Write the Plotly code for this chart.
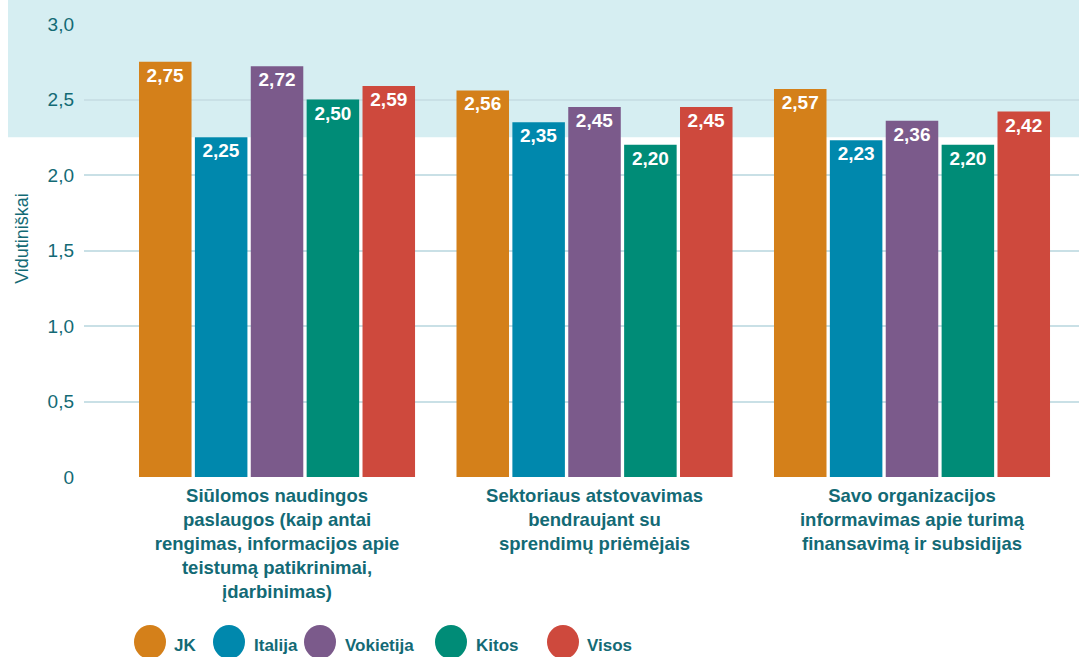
import plotly.graph_objects as go

categories = [
    "Siūlomos naudingos<br>paslaugos (kaip antai<br>rengimas, informacijos apie<br>teistumą patikrinimai,<br>įdarbinimas)",
    "Sektoriaus atstovavimas<br>bendraujant su<br>sprendimų priėmėjais",
    "Savo organizacijos<br>informavimas apie turimą<br>finansavimą ir subsidijas",
]
series_names = ["JK", "Italija", "Vokietija", "Kitos", "Visos"]
jk = [2.75, 2.56, 2.57]
italija = [2.25, 2.35, 2.23]
vokietija = [2.72, 2.45, 2.36]
kitos = [2.50, 2.20, 2.20]
visos = [2.59, 2.45, 2.42]
series_values = [jk, italija, vokietija, kitos, visos]
y_tickvals = [0, 0.5, 1.0, 1.5, 2.0, 2.5, 3.0]
y_ticktext = ["0", "0,5", "1,0", "1,5", "2,0", "2,5", "3,0"]
band_low = 2.25
y_title = "Vidutiniškai"

colors = ["#D4801A", "#0088AD", "#7B5A8B", "#008C77", "#CE493D"]
teal = "#136A75"
band_color = "#D6EEF2"
font_family = "Liberation Sans, Arial, sans-serif"

W, H = 1079, 657
ml, mr, mt, mb = 84, 0, 0, 180
pw, ph = W - ml - mr, H - mt - mb

fig = go.Figure()
xs = list(range(len(categories)))
for name, vals, col in zip(series_names, series_values, colors):
    fig.add_trace(go.Bar(
        x=xs, y=vals, name=name, marker=dict(color=col, line=dict(width=0)),
        texttemplate="%{y:.2f}", textposition="inside", insidetextanchor="end",
        textfont=dict(color="white", size=19, family=font_family, weight="bold"),
        showlegend=False, cliponaxis=False, hoverinfo="skip",
    ))

# background band (upper zone)
fig.add_shape(type="rect", xref="paper", yref="y", x0=(8 - ml) / pw, x1=1.0,
              y0=band_low, y1=3.2, fillcolor=band_color, line=dict(width=0), layer="below")
# no visible gridline at the top tick
fig.add_shape(type="line", xref="paper", yref="y", x0=0, x1=1.0,
              y0=y_tickvals[-1], y1=y_tickvals[-1], line=dict(color=band_color, width=4),
              layer="above")

# custom legend with large circles
legend_circle_x = [150, 229, 320, 451, 563]
legend_text_x = [172, 252, 343, 474, 585]
legend_cy = 642
for name, col, cx, tx in zip(series_names, colors, legend_circle_x, legend_text_x):
    fig.add_shape(type="circle", xref="paper", yref="paper",
                  xsizemode="pixel", ysizemode="pixel",
                  xanchor=(cx - ml) / pw, yanchor=(H - mb - legend_cy) / ph,
                  x0=-16, x1=16, y0=-17, y1=17,
                  fillcolor=col, line=dict(width=0))
    fig.add_annotation(text=name, xref="paper", yref="paper",
                       x=(tx - ml) / pw, y=(H - mb - 645) / ph,
                       xanchor="left", yanchor="middle", showarrow=False,
                       font=dict(size=17, color=teal, family=font_family, weight="bold"))

fig.update_layout(
    width=W, height=H,
    margin=dict(l=ml, r=mr, t=mt, b=mb),
    paper_bgcolor="white", plot_bgcolor="rgba(0,0,0,0)",
    barmode="group", bargap=0.12, bargroupgap=0.06,
    separators=", ",
    font=dict(family=font_family, color=teal),
    xaxis=dict(
        tickvals=xs, ticktext=categories, range=[-0.608, 2.526],
        showgrid=False, zeroline=False, showline=False, ticks="", ticklabelstandoff=5,
        tickfont=dict(size=18.5, color=teal, family=font_family, weight="bold"),
    ),
    yaxis=dict(
        range=[0, 3.159], tickvals=y_tickvals, ticktext=y_ticktext,
        showgrid=True, gridcolor="#C9E0E6", gridwidth=1.5, zeroline=False,
        showline=False, ticks="", ticklabelstandoff=9,
        tickfont=dict(size=19, color=teal, family=font_family),
        title=dict(text=y_title, font=dict(size=18, color=teal, family=font_family), standoff=14),
    ),
)

fig.write_html("out.html", config={"displayModeBar": False},
               post_script="document.body.style.margin='0px';document.body.style.overflow='hidden';")
